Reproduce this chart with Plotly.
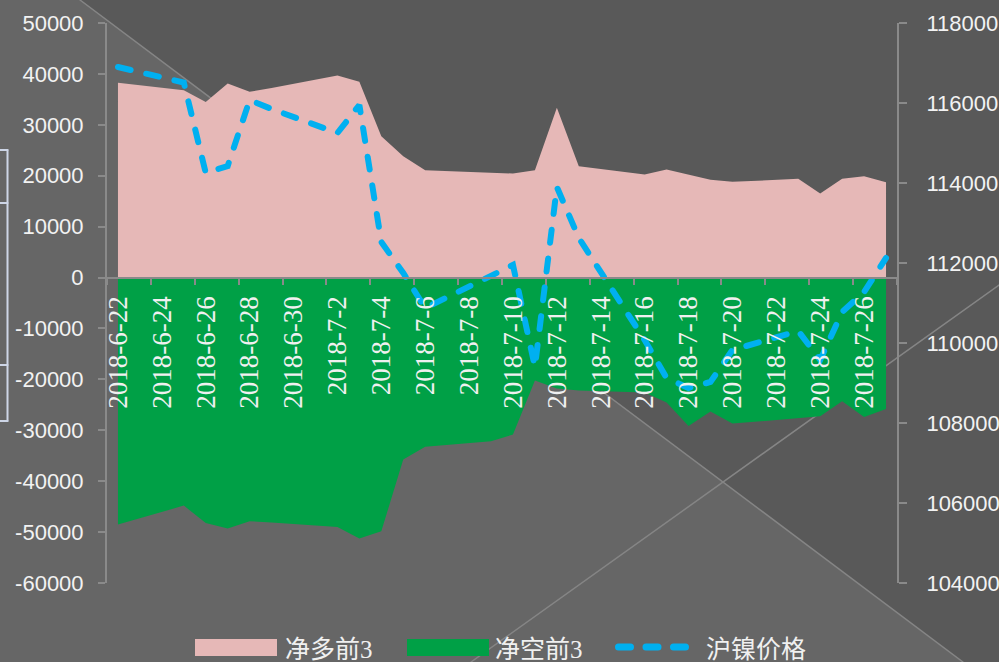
import plotly.graph_objects as go

# dates on the category axis (one per calendar day)
dates = [
    "2018-6-22", "2018-6-23", "2018-6-24", "2018-6-25", "2018-6-26", "2018-6-27",
    "2018-6-28", "2018-6-29", "2018-6-30", "2018-7-1", "2018-7-2", "2018-7-3",
    "2018-7-4", "2018-7-5", "2018-7-6", "2018-7-7", "2018-7-8", "2018-7-9",
    "2018-7-10", "2018-7-11", "2018-7-12", "2018-7-13", "2018-7-14", "2018-7-15",
    "2018-7-16", "2018-7-17", "2018-7-18", "2018-7-19", "2018-7-20", "2018-7-21",
    "2018-7-22", "2018-7-23", "2018-7-24", "2018-7-25", "2018-7-26", "2018-7-27",
]

# 净多前3 (weekends have no data)
net_long = [
    38250, None, None, 36800, 34500, 38100, 36500, 37230, None, None, 39700, 38450,
    27760, 23830, 21080, None, None, 20570, 20430, 21080, 33340, 21870, None, None,
    20240, 21220, 20240, 19190, 18800, None, None, 19390, 16500, 19390, 19900, 18720,
]

# 净空前3
net_short = [
    -48530, None, None, -44800, -48200, -49300, -47880, -48100, None, None, -48980, -51280,
    -49840, -35760, -33260, None, None, -32160, -30840, -20200, -21800, -22200, None, None,
    -22600, -24560, -29170, -26330, -28690, None, None, -27600, -27250, -24300, -27370, -25800,
]

# 沪镍价格
price = [
    116900, None, None, 116510, 114250, 114425, 116075, 115850, None, None, 115250, 115950,
    112525, 111750, 110875, None, None, 111675, 111950, 109400, 113900, 112625, None, None,
    110075, 109125, 108875, 109025, 109825, None, None, 110300, 109575, 110775, 111275, 112125,
]

left_ticks = [50000, 40000, 30000, 20000, 10000, 0, -10000, -20000, -30000, -40000, -50000, -60000]
right_ticks = [104000, 106000, 108000, 110000, 112000, 114000, 116000, 118000]

W, H = 999, 662
L, R, T, B = 107, 102, 23, 79
PW, PH = W - L - R, H - T - B

PINK, GREEN, BLUE = "#e6b8b7", "#00a046", "#00b0f0"


def px(x, y):
    # pixel position on the page -> paper coords
    return (x - L) / PW, (H - B - y) / PH


def seg(x0, y0, x1, y1, color, width, dash=None):
    a, b = px(x0, y0)
    c, d = px(x1, y1)
    ln = dict(color=color, width=width)
    if dash:
        ln["dash"] = dash
    return dict(type="line", xref="paper", yref="paper", x0=a, y0=b, x1=c, y1=d,
                line=ln, layer="below")


def box(x0, y0, x1, y1, color):
    a, b = px(x0, y0)
    c, d = px(x1, y1)
    return dict(type="rect", xref="paper", yref="paper", x0=a, y0=b, x1=c, y1=d,
                fillcolor=color, line=dict(width=0), layer="above")


fig = go.Figure()

fig.add_trace(go.Scatter(
    x=dates, y=net_long, name="净多前3", mode="lines", fill="tozeroy",
    fillcolor=PINK, line=dict(width=0, color=PINK), connectgaps=True,
))
fig.add_trace(go.Scatter(
    x=dates, y=net_short, name="净空前3", mode="lines", fill="tozeroy",
    fillcolor=GREEN, line=dict(width=0, color=GREEN), connectgaps=True,
))
fig.add_trace(go.Scatter(
    x=dates, y=price, name="沪镍价格", mode="lines", yaxis="y2",
    line=dict(color=BLUE, width=6, dash="13px,16px"), connectgaps=True,
))

# background: dark triangle above the diagonal plus two light lines
dark = [px(80, 0), px(999, 0), px(999, 662), px(963, 662)]
path = "M " + " L ".join(f"{a},{b}" for a, b in dark) + " Z"
shapes = [
    dict(type="path", xref="paper", yref="paper", path=path, fillcolor="#595959",
         line=dict(width=0), layer="below"),
    seg(80, 0, 963, 662, "#858585", 1.5),
    seg(471, 662, 999, 285, "#858585", 1.5),
    # bracket marks on the left edge
    seg(7.5, 150, 7.5, 421, "#cdd5e6", 2),
    seg(0, 150, 7.5, 150, "#cdd5e6", 2),
    seg(0, 203, 7.5, 203, "#cdd5e6", 2),
    seg(0, 365, 7.5, 365, "#cdd5e6", 2),
    seg(0, 421, 7.5, 421, "#cdd5e6", 2),
]

# legend drawn by hand: swatch + label
shapes.append(box(195, 639, 277, 656, PINK))
shapes.append(box(407, 639, 489, 656, GREEN))
lg = seg(618.5, 647, 685.5, 647, BLUE, 7, dash="12px,15.5px")
lg["layer"] = "above"
shapes.append(lg)

annotations = []
for name, xpix in [("净多前3", 283), ("净空前3", 493), ("沪镍价格", 704)]:
    ax, ay = px(xpix, 649)
    annotations.append(dict(
        text=name, xref="paper", yref="paper", x=ax, y=ay, xanchor="left",
        yanchor="middle", showarrow=False,
        font=dict(family="Liberation Serif, Noto Sans CJK SC", size=25, color="#f0f0f0"),
    ))

axis_col = "#8a8a8a"
fig.update_layout(
    width=W, height=H,
    margin=dict(l=L, r=R, t=T, b=B),
    paper_bgcolor="#666666",
    plot_bgcolor="rgba(0,0,0,0)",
    showlegend=False,
    shapes=shapes,
    annotations=annotations,
    font=dict(family="Liberation Sans, Arial", color="#f2f2f2"),
    xaxis=dict(
        type="category", range=[-0.5, 35.5], anchor="free", position=60000 / 110000,
        tickmode="linear", tick0=0, dtick=2, tickson="boundaries",
        ticks="outside", ticklen=6, tickcolor=axis_col, tickwidth=2,
        showline=True, linecolor=axis_col, linewidth=2, showgrid=False,
        tickangle=-90, automargin=False, ticklabelstandoff=7,
        tickfont=dict(family="Liberation Serif, serif", size=27, color="#f0f0f0"),
    ),
    yaxis=dict(
        range=[-60000, 50000], tickvals=left_ticks,
        ticktext=[str(v) for v in left_ticks],
        showline=True, linecolor=axis_col, linewidth=2, showgrid=False, zeroline=False,
        ticks="outside", ticklen=7, tickcolor=axis_col, tickwidth=2,
        ticklabelstandoff=10, automargin=False,
        tickfont=dict(size=22),
    ),
    yaxis2=dict(
        range=[104000, 118000], tickvals=right_ticks, overlaying="y", side="right",
        showline=True, linecolor=axis_col, linewidth=2, showgrid=False, zeroline=False,
        ticks="outside", ticklen=8, tickcolor=axis_col, tickwidth=2,
        ticklabelstandoff=15, tickformat="d", automargin=False,
        tickfont=dict(size=22),
    ),
)

# page margin off, round line caps for the dashed price line
post = """
document.body.style.margin = '0';
document.body.style.overflow = 'hidden';
var st = document.createElement('style');
st.textContent = '.scatterlayer .js-line, .shapelayer path { stroke-linecap: round !important; }';
document.head.appendChild(st);
"""

fig.write_html("out.html", post_script=post, config={"displayModeBar": False})
